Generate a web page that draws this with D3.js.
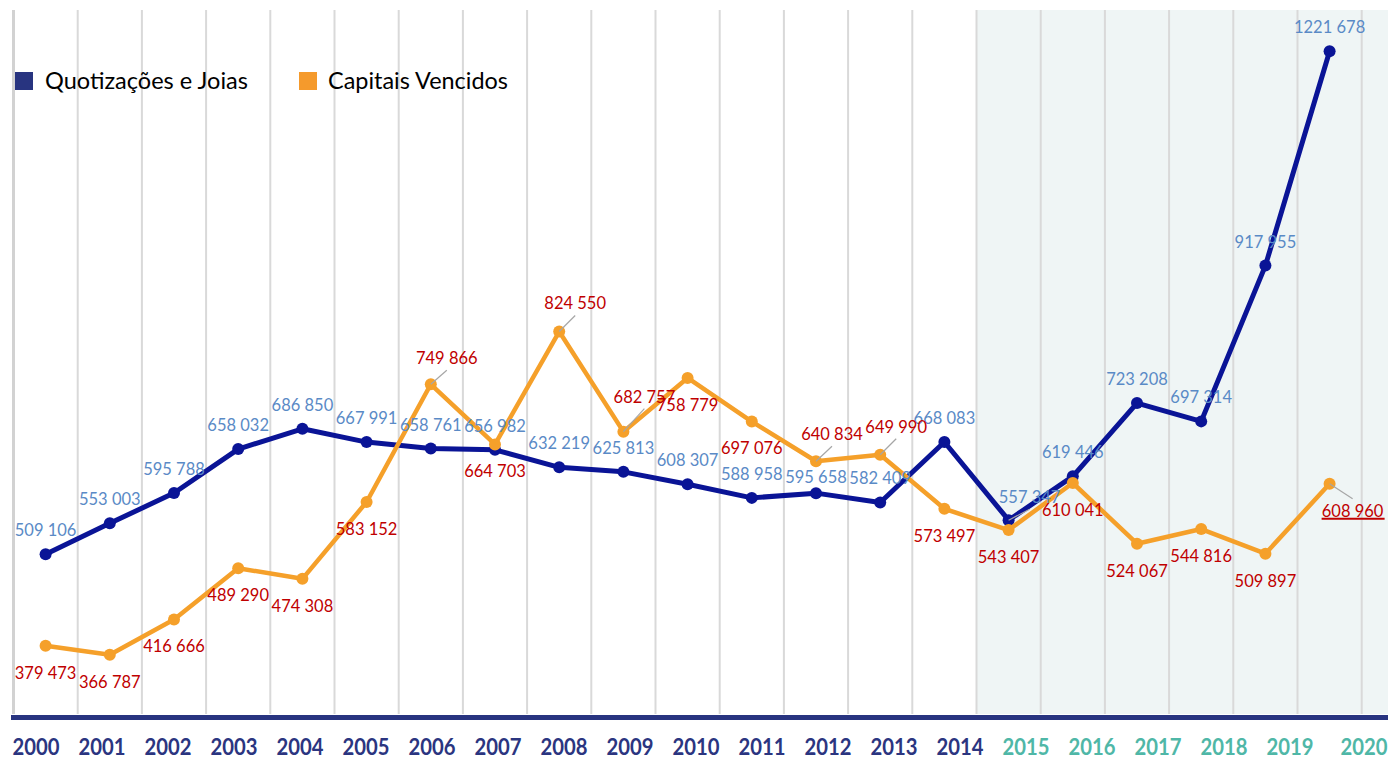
<!DOCTYPE html>
<html>
<head>
<meta charset="utf-8">
<script src="https://cdn.jsdelivr.net/npm/d3@7"></script>
<style>
    body { margin: 0; background: #fff; }
    text { font-family: Lato, "Noto Sans", sans-serif; }
</style>
</head>
<body>
<div id="chart"></div>
<script>
var years = [2000, 2001, 2002, 2003, 2004, 2005, 2006, 2007, 2008, 2009, 2010,
             2011, 2012, 2013, 2014, 2015, 2016, 2017, 2018, 2019, 2020];

var quotizacoes = [509106, 553003, 595788, 658032, 686850, 667991, 658761, 656982, 632219, 625813, 608307,
                   588958, 595658, 582409, 668083, 557347, 619446, 723208, 697314, 917955, 1221678];

var capitais = [379473, 366787, 416666, 489290, 474308, 583152, 749866, 664703, 824550, 682757, 758779,
                697076, 640834, 649990, 573497, 543407, 610041, 524067, 544816, 509897, 608960];

var seriesNames = ['Quotizações e Joias', 'Capitais Vencidos'];
var shadedFrom = 2015;

// where the label was pulled away from its default spot (dx, dy to label centre)
var blueNudge = {2012: [0, -16], 2015: [21, -23]};
var orangeNudge = {2006: [16, -26], 2008: [16, -28], 2009: [21, -35], 2012: [16, -27], 2013: [16, -28], 2020: [23, 27]};

var width = 1394,
    height = 758,
    plotTop = 10,
    plotBottom = 714;

var x = d3.scaleBand()
    .domain(years)
    .range([13.5, 1361.7])
    .paddingInner(0)
    .paddingOuter(0);

var y = d3.scaleLinear()
    .domain([280000, 1280000])
    .range([716, 10]);

// the year row underneath is spaced a little wider than the grid
var yearX = d3.scaleLinear()
    .domain([2000, 2019])
    .range([36, 1290]);

function cx(yr) { return x(yr) + x.bandwidth() / 2; }

function fmt(v) {
    var rest = v % 1000;
    return Math.floor(v / 1000) + ' ' + ('00' + rest).slice(-3);
}

var svg = d3.select('#chart')
    .append('svg')
    .attr('width', width)
    .attr('height', height);

// shaded recent years
svg.append('rect')
    .attr('x', x(shadedFrom))
    .attr('y', plotTop)
    .attr('width', 1388 - x(shadedFrom))
    .attr('height', plotBottom - plotTop)
    .attr('fill', '#eff5f5');

// vertical grid
var gridX = years.map(function(d) { return x(d); }).concat([x.range()[1]]);
svg.append('g')
    .selectAll('line')
    .data(gridX)
    .enter()
    .append('line')
    .attr('x1', function(d) { return d; })
    .attr('x2', function(d) { return d; })
    .attr('y1', plotTop)
    .attr('y2', plotBottom)
    .attr('stroke', function(d, i) { return i === 0 ? '#d2d2d2' : '#d9d9d9'; })
    .attr('stroke-width', function(d, i) { return i === 0 ? 3 : 2; });

// bottom axis bar
svg.append('rect')
    .attr('x', 11)
    .attr('y', 715)
    .attr('width', 1377)
    .attr('height', 5)
    .attr('fill', '#283480');

// year labels
svg.append('g')
    .selectAll('text')
    .data(years)
    .enter()
    .append('text')
    .attr('x', function(d) { return d === 2020 ? 1364 : yearX(d); })
    .attr('y', 755)
    .attr('text-anchor', 'middle')
    .attr('font-family', '"Liberation Sans", Arial, sans-serif')
    .attr('font-weight', 'bold')
    .attr('font-size', 22)
    .attr('textLength', 47)
    .attr('lengthAdjust', 'spacingAndGlyphs')
    .attr('fill', function(d) { return d >= shadedFrom ? '#4fb7a7' : '#2b3580'; })
    .text(function(d) { return d; });

var line = d3.line()
    .x(function(d) { return cx(d.year); })
    .y(function(d) { return y(d.value); });

var blueData = years.map(function(yr, i) { return {year: yr, value: quotizacoes[i]}; });
var orangeData = years.map(function(yr, i) { return {year: yr, value: capitais[i]}; });

function drawSeries(data, color, lw) {
    var g = svg.append('g');
    g.append('path')
        .datum(data)
        .attr('d', line)
        .attr('fill', 'none')
        .attr('stroke', color)
        .attr('stroke-width', lw)
        .attr('stroke-linejoin', 'round');
    g.selectAll('circle')
        .data(data)
        .enter()
        .append('circle')
        .attr('cx', function(d) { return cx(d.year); })
        .attr('cy', function(d) { return y(d.value); })
        .attr('r', 6)
        .attr('fill', color);
}

drawSeries(blueData, '#0a1496', 5);
drawSeries(orangeData, '#f5a02a', 4.5);

function drawLabels(data, nudge, defDy, color) {
    var g = svg.append('g');
    data.forEach(function(d) {
        var px = cx(d.year),
            py = y(d.value),
            n = nudge[d.year] || [0, defDy],
            lx = px + n[0],
            ly = py + n[1];
        if (nudge[d.year] && n[0] !== 0) {
            var end = n[1] < 0 ? ly + 12 : ly - 12;
            g.append('line')
                .attr('x1', px)
                .attr('y1', py)
                .attr('x2', lx)
                .attr('y2', end)
                .attr('stroke', '#a6a6a6')
                .attr('stroke-width', 1.2);
        }
        g.append('text')
            .attr('x', lx)
            .attr('y', ly)
            .attr('dy', '0.36em')
            .attr('text-anchor', 'middle')
            .attr('font-size', 16.5)
            .attr('fill', color)
            .text(fmt(d.value));
        if (d.year === 2020 && color === '#c00000') {
            g.append('line')
                .attr('x1', lx - 31)
                .attr('x2', lx + 32)
                .attr('y1', ly + 8)
                .attr('y2', ly + 8)
                .attr('stroke', '#c00000')
                .attr('stroke-width', 2);
        }
    });
}

drawLabels(blueData, blueNudge, -24, '#5a8ac6');
drawLabels(orangeData, orangeNudge, 27, '#c00000');

// legend
var legend = svg.append('g');
var legendItems = [
    {name: seriesNames[0], color: '#283480', sx: 15, tx: 45, w: 203},
    {name: seriesNames[1], color: '#f59a2c', sx: 299, tx: 328, w: 180}
];
legendItems.forEach(function(d) {
    legend.append('rect')
        .attr('x', d.sx)
        .attr('y', 72)
        .attr('width', 18)
        .attr('height', 18)
        .attr('fill', d.color);
    legend.append('text')
        .attr('x', d.tx)
        .attr('y', 89)
        .attr('font-size', 23)
        .attr('fill', '#000')
        .attr('textLength', d.w)
        .attr('lengthAdjust', 'spacingAndGlyphs')
        .text(d.name);
});
</script>
</body>
</html>
